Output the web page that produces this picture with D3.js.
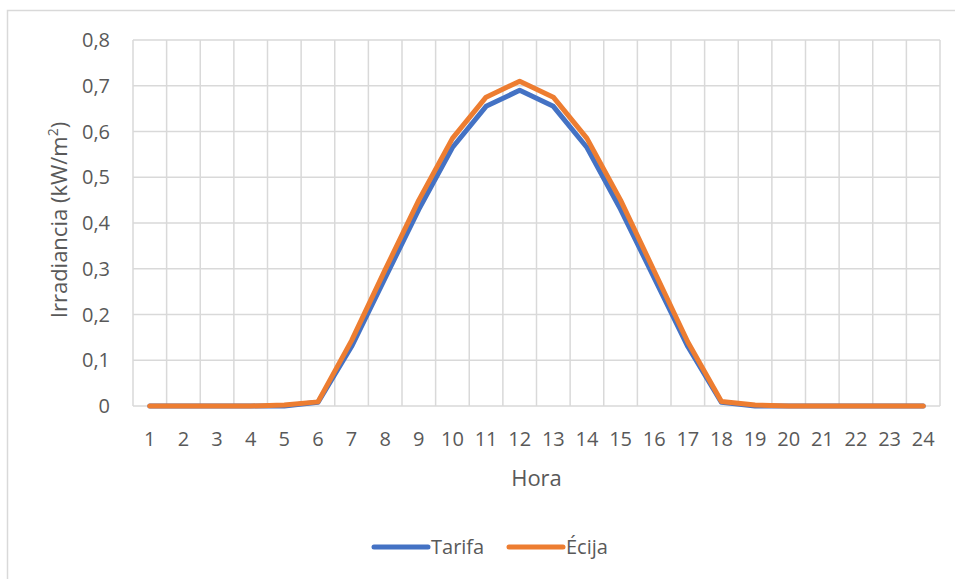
<!DOCTYPE html>
<html>
<head>
<meta charset="utf-8">
<script src="https://cdn.jsdelivr.net/npm/d3@7"></script>
<style>
  body { margin: 0; background: #fff; }
  svg text { font-family: "Open Sans", "Liberation Sans", sans-serif; fill: #595959; }
</style>
</head>
<body>
<div id="chart"></div>
<script>
const hours = d3.range(1, 25).map(String)
const tarifa = [0, 0, 0, 0, 0, 0.008, 0.13, 0.28, 0.43, 0.565, 0.655, 0.69, 0.655, 0.565, 0.43, 0.28, 0.13, 0.008, 0, 0, 0, 0, 0, 0]
const ecija = [0, 0, 0, 0, 0.002, 0.009, 0.143, 0.298, 0.45, 0.585, 0.675, 0.71, 0.675, 0.585, 0.45, 0.295, 0.14, 0.01, 0.002, 0, 0, 0, 0, 0]
const yTicks = [0, 0.1, 0.2, 0.3, 0.4, 0.5, 0.6, 0.7, 0.8]
const seriesNames = ["Tarifa", "Écija"]
const colors = ["#4472C4", "#ED7D31"]

const width = 955, height = 579
const margin = { top: 40, right: 15, bottom: 173, left: 133 }
const innerW = 940 - margin.left
const innerH = 406 - margin.top

const svg = d3.select("#chart").append("svg")
  .attr("width", width)
  .attr("height", height)

// outer chart border
svg.append("rect")
  .attr("x", 7.5).attr("y", 10.5)
  .attr("width", 960).attr("height", 600)
  .attr("fill", "none")
  .attr("stroke", "#d9d9d9")
  .attr("stroke-width", 1.5)

const g = svg.append("g")
  .attr("transform", `translate(${margin.left},${margin.top})`)

const x = d3.scaleBand().domain(hours).range([0, innerW])
const y = d3.scaleLinear().domain([0, 0.8]).range([innerH, 0])

// horizontal grid
g.selectAll(".hgrid").data(yTicks).join("line")
  .attr("x1", 0).attr("x2", innerW)
  .attr("y1", d => y(d)).attr("y2", d => y(d))
  .attr("stroke", "#d9d9d9").attr("stroke-width", 1.5)

// vertical grid at category boundaries
const bounds = hours.map(h => x(h)).concat([innerW])
g.selectAll(".vgrid").data(bounds).join("line")
  .attr("x1", d => d).attr("x2", d => d)
  .attr("y1", 0).attr("y2", innerH)
  .attr("stroke", "#d9d9d9").attr("stroke-width", 1.5)

// y tick labels
g.selectAll(".ylab").data(yTicks).join("text")
  .attr("x", -23)
  .attr("y", d => y(d))
  .attr("dy", "0.35em")
  .attr("text-anchor", "end")
  .attr("font-size", 20)
  .text(d => d === 0 ? "0" : d3.format(".1f")(d).replace(".", ","))

// x tick labels
g.selectAll(".xlab").data(hours).join("text")
  .attr("x", d => x(d) + x.bandwidth() / 2)
  .attr("y", innerH + 40)
  .attr("text-anchor", "middle")
  .attr("font-size", 20)
  .text(d => d)

// axis titles
g.append("text")
  .attr("x", innerW / 2)
  .attr("y", innerH + 80)
  .attr("text-anchor", "middle")
  .attr("font-size", 22)
  .text("Hora")

const yTitle = svg.append("text")
  .attr("transform", `translate(67,${margin.top + innerH / 2 - 3}) rotate(-90)`)
  .attr("text-anchor", "middle")
  .attr("font-size", 22)
yTitle.append("tspan").text("Irradiancia (kW/m")
yTitle.append("tspan").attr("baseline-shift", "super").attr("font-size", 14).text("2")
yTitle.append("tspan").text(")")

// lines
const line = d3.line()
  .x((d, i) => x(hours[i]) + x.bandwidth() / 2)
  .y(d => y(d))
  .curve(d3.curveLinear)

;[tarifa, ecija].forEach((vals, i) => {
  g.append("path")
    .datum(vals)
    .attr("fill", "none")
    .attr("stroke", colors[i])
    .attr("stroke-width", 5)
    .attr("stroke-linejoin", "round")
    .attr("stroke-linecap", "round")
    .attr("d", line)
})

// legend
const legendX = [374, 509]
seriesNames.forEach((name, i) => {
  const lg = svg.append("g").attr("transform", `translate(${legendX[i]},547)`)
  lg.append("line")
    .attr("x1", 0).attr("x2", 54)
    .attr("stroke", colors[i])
    .attr("stroke-width", 5)
    .attr("stroke-linecap", "round")
  lg.append("text")
    .attr("x", 57)
    .attr("dy", "0.35em")
    .attr("font-size", 20)
    .text(name)
})
</script>
</body>
</html>
